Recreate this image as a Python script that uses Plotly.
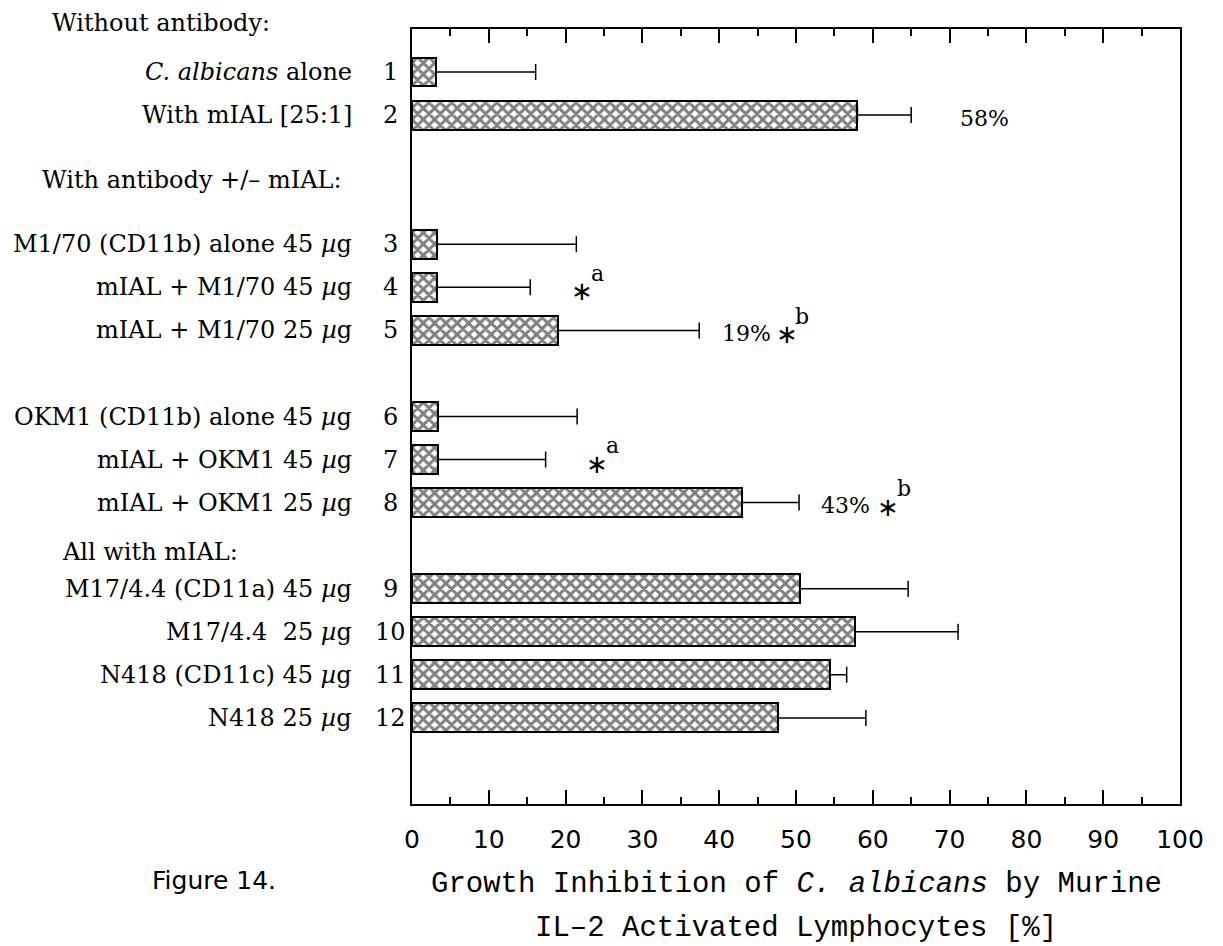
import plotly.graph_objects as go

# ---- data -------------------------------------------------------------
conditions = [
    "<i>C. albicans</i> alone",
    "With mIAL [25:1]",
    "M1/70 (CD11b) alone 45 <i>µ</i>g",
    "mIAL + M1/70 45 <i>µ</i>g",
    "mIAL + M1/70 25 <i>µ</i>g",
    "OKM1 (CD11b) alone 45 <i>µ</i>g",
    "mIAL + OKM1 45 <i>µ</i>g",
    "mIAL + OKM1 25 <i>µ</i>g",
    "M17/4.4 (CD11a) 45 <i>µ</i>g",
    "M17/4.4  25 <i>µ</i>g",
    "N418 (CD11c) 45 <i>µ</i>g",
    "N418 25 <i>µ</i>g",
]
row_numbers = ["1", "2", "3", "4", "5", "6", "7", "8", "9", "10", "11", "12"]
inhibition = [3.1, 58, 3.3, 3.2, 19, 3.4, 3.4, 43, 50.5, 57.7, 54.4, 47.7]
error_plus = [13.0, 7.0, 18.1, 12.2, 18.4, 18.1, 14.0, 7.4, 14.1, 13.4, 2.2, 11.4]

group_sizes = [2, 3, 3, 4]
group_headers = ["Without antibody:", "With antibody +/– mIAL:", "All with mIAL:"]

percent_rows = [2, 5, 8]                 # rows whose value is printed
sig_rows = [4, 7, 5, 8]                  # rows marked with an asterisk
sig_letters = ["a", "a", "b", "b"]

x_ticks = [0, 10, 20, 30, 40, 50, 60, 70, 80, 90, 100]

# ---- row layout: groups separated by empty slots ------------------------
group_gaps = [3, 2, 2]
slots = []
pos = 0
for g, n in enumerate(group_sizes):
    for _ in range(n):
        slots.append(pos)
        pos += 1
    if g < len(group_gaps):
        pos += group_gaps[g] - 1

label_font = dict(family="DejaVu Serif", size=24, color="black")

fig = go.Figure()
fig.add_trace(go.Bar(
    x=inhibition,
    y=slots,
    orientation="h",
    width=0.67,
    marker=dict(
        color="white",
        line=dict(color="black", width=2),
        pattern=dict(shape="x", size=8, solidity=0.6, fgcolor="black", bgcolor="white"),
    ),
    error_x=dict(
        type="data", symmetric=False,
        array=error_plus, arrayminus=[0] * len(error_plus),
        color="black", thickness=1.5, width=8,
    ),
    hoverinfo="skip",
    showlegend=False,
))

annotations = []
# condition names and row numbers to the left of the frame
for name, num, y in zip(conditions, row_numbers, slots):
    annotations.append(dict(x=0, xref="paper", y=y, yref="y", text=name,
                            xanchor="right", yanchor="middle", xshift=-58,
                            showarrow=False, font=label_font))
    annotations.append(dict(x=0, xref="paper", y=y, yref="y", text=num,
                            xanchor="center", yanchor="middle", xshift=-22,
                            showarrow=False, font=label_font))

# group headings (the first sits above the frame)
annotations.append(dict(x=0, xref="paper", y=1, yref="paper", yshift=6,
                        text=group_headers[0], xanchor="left", yanchor="middle",
                        xshift=-362, showarrow=False, font=label_font))
for txt, y, sh in zip(group_headers[1:], [2.5, 11.15], [-372, -352]):
    annotations.append(dict(x=0, xref="paper", y=y, yref="y", text=txt,
                            xanchor="left", yanchor="middle", xshift=sh,
                            showarrow=False, font=label_font))

# printed percentages
pct_x = {2: 74.6, 5: 43.6, 8: 56.5}
for r in percent_rows:
    annotations.append(dict(x=pct_x[r], y=slots[r - 1], xref="x", yref="y",
                            text=f"{inhibition[r - 1]:.0f}%", showarrow=False,
                            yshift=-3, font=dict(family="DejaVu Serif", size=22, color="black")))

# significance asterisks with superscript letters
star_x = {4: 22.1, 7: 24.1, 5: 48.8, 8: 62.0}
for r, letter in zip(sig_rows, sig_letters):
    y = slots[r - 1]
    annotations.append(dict(x=star_x[r], y=y, xref="x", yref="y", text="∗",
                            showarrow=False, yshift=-4,
                            font=dict(family="DejaVu Sans", size=26, color="black")))
    annotations.append(dict(x=star_x[r] + 2.0, y=y, xref="x", yref="y", text=letter,
                            showarrow=False, yshift=14,
                            font=dict(family="DejaVu Serif", size=22, color="black")))

# axis caption and figure number
caption_font = dict(family="Liberation Mono", size=29, color="black")
annotations.append(dict(x=0.5, xref="paper", y=0, yref="paper", yshift=-80,
                        text="Growth Inhibition of <i>C. albicans</i> by Murine",
                        showarrow=False, yanchor="middle", font=caption_font))
annotations.append(dict(x=0.5, xref="paper", y=0, yref="paper", yshift=-124,
                        text="IL–2 Activated Lymphocytes [%]",
                        showarrow=False, yanchor="middle", font=caption_font))
annotations.append(dict(x=0, xref="paper", y=0, yref="paper", yshift=-76, xshift=-262,
                        text="Figure 14.", showarrow=False, xanchor="left", yanchor="middle",
                        font=dict(family="DejaVu Sans", size=25, color="black")))

fig.update_layout(
    width=1223, height=946,
    margin=dict(l=412, r=43, t=29, b=142),
    paper_bgcolor="white", plot_bgcolor="white",
    bargap=0,
    annotations=annotations,
    xaxis=dict(
        range=[0, 100], tickvals=x_ticks, ticktext=[str(t) for t in x_ticks],
        ticks="inside", ticklen=14, tickwidth=2, tickcolor="black",
        minor=dict(dtick=5, tick0=0, ticks="inside", ticklen=7, tickwidth=2, tickcolor="black"),
        showline=True, linecolor="black", linewidth=2, mirror="ticks",
        showgrid=False, zeroline=False,
        tickfont=dict(family="DejaVu Sans", size=25, color="black"),
        ticklabelstandoff=12,
    ),
    yaxis=dict(
        range=[17, -1], showticklabels=False, ticks="",
        showline=True, linecolor="black", linewidth=2, mirror=True,
        showgrid=False, zeroline=False,
    ),
)

fig.write_html("out.html")
